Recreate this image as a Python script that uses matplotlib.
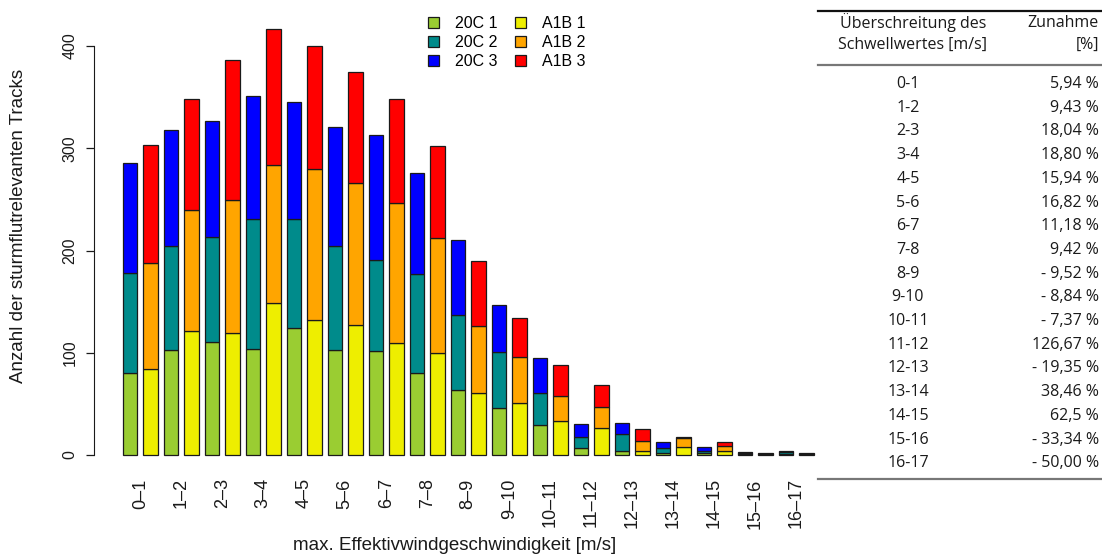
import matplotlib
matplotlib.use("Agg")
import matplotlib.pyplot as plt
from matplotlib.patches import Patch
from matplotlib.lines import Line2D
import numpy as np

# --- data -------------------------------------------------------------
classes = ["0–1", "1–2", "2–3", "3–4", "4–5", "5–6", "6–7", "7–8", "8–9",
           "9–10", "10–11", "11–12", "12–13", "13–14", "14–15", "15–16", "16–17"]

c20_1 = [80, 103, 111, 104, 124, 103, 102, 80, 64, 46, 29, 7, 4, 2, 2, 1, 1]
c20_2 = [98, 101, 102, 127, 107, 101, 89, 97, 73, 55, 32, 11, 17, 5, 2, 1, 2]
c20_3 = [108, 114, 114, 120, 114, 117, 122, 99, 73, 46, 34, 12, 10, 6, 4, 1, 1]

a1b_1 = [84, 121, 119, 149, 132, 127, 110, 100, 61, 51, 33, 26, 4, 8, 4, 1, 1]
a1b_2 = [104, 119, 130, 135, 148, 139, 136, 112, 65, 45, 25, 21, 10, 9, 5, 0, 0]
a1b_3 = [115, 108, 137, 133, 120, 109, 102, 90, 64, 38, 30, 21, 11, 1, 4, 1, 1]

table_classes = ["0-1", "1-2", "2-3", "3-4", "4-5", "5-6", "6-7", "7-8", "8-9",
                 "9-10", "10-11", "11-12", "12-13", "13-14", "14-15", "15-16", "16-17"]
table_change = ["5,94 %", "9,43 %", "18,04 %", "18,80 %", "15,94 %", "16,82 %",
                "11,18 %", "9,42 %", "- 9,52 %", "- 8,84 %", "- 7,37 %", "126,67 %",
                "- 19,35 %", "38,46 %", "62,5 %", "- 33,34 %", "- 50,00 %"]

col_20c = ["#9ACD32", "#008B8B", "#0000FF"]
col_a1b = ["#EEEE00", "#FFA500", "#FF0000"]

plt.rcParams['font.family'] = ['Liberation Sans', 'DejaVu Sans']

W, H = 1102, 556
fig = plt.figure(figsize=(W / 100, H / 100), dpi=100, facecolor='white')


def fx(px):
    return px / W


def fy(py):
    return 1 - py / H


# axes placed in pixel terms of the reference
ax_l, ax_r, ax_t, ax_b = 94, 818, 20, 470
ax = fig.add_axes([fx(ax_l), fy(ax_b), fx(ax_r) - fx(ax_l), fy(ax_t) - fy(ax_b)])

pitch = 20.5      # px between bars
x0_px = 130       # centre of first bar
ppu = 1.0225      # px per track
zero_px = 455

ax.set_xlim((ax_l - x0_px) / pitch, (ax_r - x0_px) / pitch)
ax.set_ylim((zero_px - ax_b) / ppu, (zero_px - ax_t) / ppu)

n = len(classes)
x20 = np.arange(n) * 2
xa1b = np.arange(n) * 2 + 1
bw = 0.73
txt = '#1a1a1a'

bottom = np.zeros(n)
for vals, c in zip([c20_1, c20_2, c20_3], col_20c):
    ax.bar(x20, vals, bw, bottom=bottom, color=c, edgecolor='#1a1a1a', linewidth=0.9)
    bottom += np.array(vals)

bottom = np.zeros(n)
for vals, c in zip([a1b_1, a1b_2, a1b_3], col_a1b):
    ax.bar(xa1b, vals, bw, bottom=bottom, color=c, edgecolor='#1a1a1a', linewidth=0.9)
    bottom += np.array(vals)

for s in ['top', 'right', 'bottom']:
    ax.spines[s].set_visible(False)
ax.spines['left'].set_bounds(0, 400)
ax.spines['left'].set_color(txt)

ax.set_yticks([0, 100, 200, 300, 400])
ax.set_yticklabels(["0", "100", "200", "300", "400"], rotation=90, va='center')
ax.tick_params(axis='y', length=6, width=0.9, pad=6, labelsize=11.5, colors=txt)

ax.set_xticks(x20 + 0.5)
ax.set_xticklabels(classes, rotation=90)
ax.tick_params(axis='x', length=0, pad=6, labelsize=13, colors=txt)

fig.text(fx(19), fy(226), "Anzahl der sturmflutrelevanten Tracks", rotation=90,
         ha='center', va='center', fontsize=13.5, color=txt)
fig.text(fx(455), fy(546), "max. Effektivwindgeschwindigkeit [m/s]",
         ha='center', va='center', fontsize=13.5, color=txt)

handles = [Patch(facecolor=c, edgecolor='#1a1a1a', linewidth=0.9) for c in col_20c + col_a1b]
labels = ["20C 1", "20C 2", "20C 3", "A1B 1", "A1B 2", "A1B 3"]
fig.legend(handles, labels, ncol=2, frameon=False, loc='upper left',
           bbox_to_anchor=(fx(420), fy(8)), fontsize=11.5, handlelength=0.7,
           handleheight=0.7, handletextpad=1.0, columnspacing=1.1,
           labelspacing=0.25, borderpad=0)

# --- table on the right ---------------------------------------------
tfont = ['Open Sans', 'DejaVu Sans']
tsize = 11.5
rule_l, rule_r = 818, 1102


def rule(py, lw, color):
    fig.add_artist(Line2D([fx(rule_l), fx(rule_r)], [fy(py), fy(py)],
                          transform=fig.transFigure, lw=lw, color=color))


rule(11, 1.6, '#111111')
rule(65, 1.6, '#777777')
rule(479, 1.6, '#777777')

fig.text(fx(913), fy(23), "Überschreitung des", ha='center', va='center',
         fontsize=tsize, family=tfont, color=txt)
fig.text(fx(913), fy(45), "Schwellwertes [m/s]", ha='center', va='center',
         fontsize=tsize, family=tfont, color=txt)
fig.text(fx(1099), fy(23), "Zunahme", ha='right', va='center',
         fontsize=tsize, family=tfont, color=txt)
fig.text(fx(1099), fy(45), "[%]", ha='right', va='center',
         fontsize=tsize, family=tfont, color=txt)

row0, row_h = 84, 23.7
for i, (cl, ch) in enumerate(zip(table_classes, table_change)):
    y = row0 + i * row_h
    fig.text(fx(908), fy(y), cl, ha='center', va='center',
             fontsize=tsize, family=tfont, color=txt)
    fig.text(fx(1099), fy(y), ch, ha='right', va='center',
             fontsize=tsize, family=tfont, color=txt)

fig.savefig("out.png", dpi=100, facecolor='white')
